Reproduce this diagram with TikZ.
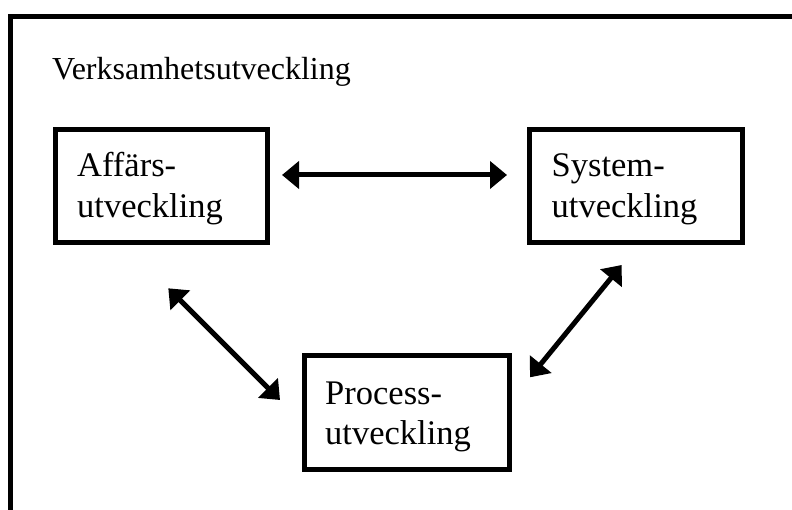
\documentclass[tikz,border=0pt]{standalone}
\usepackage{fontspec}
\setmainfont{Liberation Serif}
\usetikzlibrary{arrows.meta,calc}

\tikzset{
  devbox/.style={draw, line width=5pt, outer sep=0pt, inner sep=0pt},
  devlabel/.style={font=\fontsize{34.5}{40.5}\selectfont, align=left,
    text width=180pt, inner sep=0pt, anchor=base west},
  link/.style={line width=5pt,
    {Triangle[length=17pt,width=27pt]}-{Triangle[length=17pt,width=27pt]}},
  frame/.style={line width=5pt, line join=miter}
}

\begin{document}
\begin{tikzpicture}[x=1pt,y=-1pt]
  \useasboundingbox (0,0) rectangle (792,510);

  % open frame: left and top edges only
  \coordinate (fb) at (10.5,515);
  \coordinate (fc) at (10.5,16.5);
  \coordinate (fr) at (797,16.5);
  \draw[frame] (fb) -- (fc) -- (fr);

  \node[font=\fontsize{32}{38}\selectfont, inner sep=0pt, anchor=base west]
    (title) at (52,80) {Verksamhetsutveckling};

  % the three boxes
  \node[devbox, minimum width=212pt, minimum height=113pt] (aff) at (161.5,186) {};
  \node[devbox, minimum width=213pt, minimum height=113pt] (sys) at (636,186) {};
  \node[devbox, minimum width=205pt, minimum height=114pt] (proc) at (407,412.5) {};

  % box texts, set from each box's top left corner
  \node[devlabel] (affT) at ($(aff.north west)+(21.5,47.5)$) {Affärs-\\utveckling};
  \node[devlabel] (sysT) at ($(sys.north west)+(22,47.5)$) {System-\\utveckling};
  \node[devlabel] (procT) at ($(proc.north west)+(20.5,48.5)$) {Process-\\utveckling};

  % arrow end points, set off from the boxes
  \coordinate (ha) at ($(aff.east)+(14.5,-11)$);
  \coordinate (hs) at ($(sys.west)+(-22.5,-11)$);
  \coordinate (la) at ($(aff.south)+(6.8,45.8)$);
  \coordinate (lp) at ($(proc.west)+(-24.5,-12.5)$);
  \coordinate (rs) at ($(sys.south)+(-14.3,22.5)$);
  \coordinate (rp) at ($(proc.east)+(20.5,-35.2)$);

  \draw[link] (ha) -- (hs);
  \draw[link] (la) -- (lp);
  \draw[link] (rs) -- (rp);
\end{tikzpicture}
\end{document}
